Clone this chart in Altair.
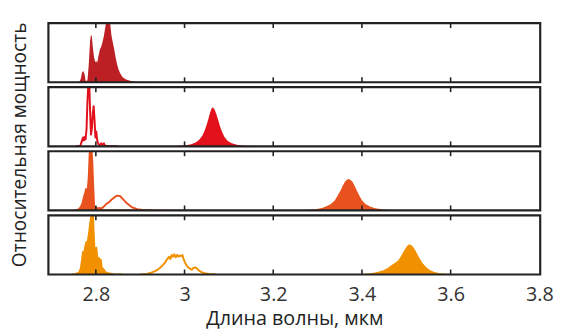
import altair as alt
import pandas as pd

# ---------------- data ----------------
colors = ["#BD2024", "#E3111B", "#E8521F", "#F29100"]
tick_values = [2.8, 3.0, 3.2, 3.4, 3.6]
axis_values = [2.8, 3.0, 3.2, 3.4, 3.6, 3.8]

# panel 1 (filled)
p1_area_x = [2.740, 2.755, 2.763, 2.766, 2.769, 2.772, 2.775, 2.777, 2.781, 2.784, 2.787, 2.789, 2.791,
             2.793, 2.796, 2.799, 2.801, 2.803, 2.806, 2.809, 2.812, 2.815, 2.818, 2.821, 2.824, 2.828,
             2.832, 2.835, 2.838, 2.841, 2.845, 2.848, 2.851, 2.855, 2.860, 2.867, 2.875, 2.885, 2.895,
             2.950, 3.100, 3.300]
p1_area_y = [0.0, 0.005, 0.01, 0.06, 0.17, 0.19, 0.12, 0.02, 0.03, 0.30, 0.70, 0.80, 0.78,
             0.60, 0.42, 0.34, 0.36, 0.33, 0.45, 0.55, 0.60, 0.68, 0.78, 0.92, 1.05, 1.08,
             1.02, 0.80, 0.68, 0.57, 0.40, 0.30, 0.22, 0.15, 0.09, 0.05, 0.03, 0.015, 0.008,
             0.005, 0.004, 0.003]

# panel 2
p2_line_x = [2.755, 2.765, 2.768, 2.771, 2.773, 2.775, 2.777, 2.779, 2.781, 2.783, 2.785, 2.787, 2.789,
             2.791, 2.793, 2.795, 2.797, 2.799, 2.801, 2.803, 2.806, 2.809, 2.812, 2.815, 2.818, 2.821,
             2.830, 2.850]
p2_line_y = [0.0, 0.01, 0.08, 0.15, 0.10, 0.16, 0.12, 0.30, 0.75, 1.05, 1.10, 0.60, 0.20,
             0.30, 0.55, 0.68, 0.45, 0.15, 0.25, 0.10, 0.03, 0.02, 0.05, 0.02, 0.05, 0.01,
             0.005, 0.0]
p2_area_x = [2.950, 2.980, 3.000, 3.015, 3.025, 3.033, 3.040, 3.045, 3.050, 3.054, 3.058, 3.061, 3.064,
             3.068, 3.072, 3.076, 3.080, 3.085, 3.090, 3.097, 3.105, 3.118, 3.135, 3.160, 3.200]
p2_area_y = [0.0, 0.006, 0.015, 0.035, 0.065, 0.11, 0.18, 0.26, 0.37, 0.47, 0.58, 0.64, 0.66,
             0.62, 0.54, 0.44, 0.34, 0.24, 0.16, 0.095, 0.055, 0.028, 0.012, 0.004, 0.0]

# panel 3
p3_spike_x = [2.750, 2.758, 2.762, 2.766, 2.770, 2.773, 2.776, 2.778, 2.780, 2.782, 2.784, 2.786, 2.788,
              2.790, 2.792, 2.794, 2.796, 2.798]
p3_spike_y = [0.0, 0.005, 0.02, 0.06, 0.12, 0.22, 0.30, 0.36, 0.33, 0.38, 0.55, 0.95, 1.10,
              1.05, 0.80, 0.40, 0.08, 0.02]
p3_hump_x = [2.798, 2.801, 2.804, 2.808, 2.812, 2.816, 2.820, 2.825, 2.830, 2.835, 2.840, 2.845, 2.850,
             2.855, 2.860, 2.865, 2.870, 2.875, 2.880, 2.886, 2.893, 2.905, 2.930]
p3_hump_y = [0.02, 0.05, 0.03, 0.04, 0.03, 0.05, 0.08, 0.12, 0.14, 0.18, 0.21, 0.24, 0.25,
             0.24, 0.20, 0.16, 0.12, 0.09, 0.06, 0.04, 0.02, 0.008, 0.0]
p3_area_x = [3.230, 3.270, 3.295, 3.310, 3.320, 3.330, 3.339, 3.346, 3.352, 3.357, 3.362, 3.366, 3.370,
             3.374, 3.379, 3.384, 3.389, 3.394, 3.400, 3.408, 3.418, 3.430, 3.445, 3.465, 3.500, 3.600]
p3_area_y = [0.0, 0.008, 0.02, 0.04, 0.07, 0.11, 0.17, 0.26, 0.34, 0.42, 0.49, 0.52, 0.53,
             0.52, 0.48, 0.41, 0.33, 0.25, 0.17, 0.11, 0.065, 0.035, 0.018, 0.008, 0.002, 0.0]

# panel 4
p4_spike_x = [2.745, 2.755, 2.762, 2.766, 2.769, 2.771, 2.773, 2.775, 2.777, 2.779, 2.781, 2.783, 2.785,
              2.787, 2.789, 2.791, 2.793, 2.795, 2.797, 2.799, 2.801, 2.803, 2.805, 2.807, 2.809, 2.811,
              2.813, 2.815, 2.818, 2.821, 2.825, 2.830, 2.840, 2.860]
p4_spike_y = [0.0, 0.01, 0.03, 0.10, 0.25, 0.38, 0.30, 0.42, 0.50, 0.55, 0.48, 0.62, 0.72,
              0.85, 0.95, 1.10, 1.10, 0.70, 0.40, 0.33, 0.45, 0.30, 0.22, 0.28, 0.18, 0.25,
              0.12, 0.10, 0.08, 0.04, 0.03, 0.015, 0.005, 0.0]
p4_hump_x = [2.900, 2.915, 2.925, 2.935, 2.943, 2.950, 2.956, 2.961, 2.965, 2.968, 2.971, 2.974, 2.977,
             2.980, 2.983, 2.986, 2.989, 2.992, 2.995, 2.998, 3.001, 3.004, 3.008, 3.012, 3.016, 3.020,
             3.024, 3.028, 3.032, 3.038, 3.045, 3.055, 3.070]
p4_hump_y = [0.0, 0.01, 0.03, 0.06, 0.10, 0.15, 0.20, 0.26, 0.30, 0.26, 0.33, 0.30, 0.34,
             0.29, 0.33, 0.30, 0.32, 0.31, 0.33, 0.26, 0.20, 0.16, 0.12, 0.10, 0.08, 0.11,
             0.12, 0.10, 0.07, 0.04, 0.02, 0.008, 0.0]
p4_area_x = [3.370, 3.400, 3.420, 3.435, 3.448, 3.458, 3.467, 3.475, 3.482, 3.488, 3.494, 3.499, 3.503,
             3.507, 3.511, 3.516, 3.521, 3.526, 3.531, 3.537, 3.544, 3.552, 3.562, 3.575, 3.590, 3.610,
             3.650]
p4_area_y = [0.0, 0.008, 0.02, 0.04, 0.07, 0.11, 0.16, 0.20, 0.24, 0.31, 0.39, 0.45, 0.49,
             0.51, 0.50, 0.46, 0.40, 0.33, 0.26, 0.19, 0.13, 0.08, 0.045, 0.022, 0.01, 0.004,
             0.0]

x_title = "Длина волны, мкм"
y_title = "Относительная мощность"

# ---------------- layout ----------------
W, H = 499, 60
FONT = "Open Sans"
xscale = alt.Scale(domain=[2.693, 3.802], nice=False, zero=False)
yscale = alt.Scale(domain=[0, 1], nice=False)


def frame(xs, ys, kind, seg):
    return pd.DataFrame({"x": xs, "y": ys, "kind": kind, "seg": seg})


panels_data = [
    [frame(p1_area_x, p1_area_y, "area", "a")],
    [frame(p2_line_x, p2_line_y, "line", "l"), frame(p2_area_x, p2_area_y, "area", "a")],
    [frame(p3_spike_x, p3_spike_y, "area", "s"), frame(p3_spike_x, p3_spike_y, "line", "s"),
     frame(p3_hump_x, p3_hump_y, "line", "h"), frame(p3_area_x, p3_area_y, "area", "a")],
    [frame(p4_spike_x, p4_spike_y, "area", "s"), frame(p4_spike_x, p4_spike_y, "line", "s"),
     frame(p4_hump_x, p4_hump_y, "line", "h"), frame(p4_area_x, p4_area_y, "area", "a")],
]

ticks_df = pd.DataFrame({"t": tick_values})
box_df = pd.DataFrame({"b": [0]})

panels = []
for i, (parts, col) in enumerate(zip(panels_data, colors)):
    df = pd.concat(parts, ignore_index=True)
    last = i == 3
    if last:
        xaxis = alt.Axis(values=axis_values, format="~g", labelFontSize=20, labelFont=FONT,
                         labelColor="#333333", ticks=False, domain=False, grid=False,
                         labelPadding=10, labelFlush=False, title=x_title, titleFont=FONT,
                         titleFontSize=20, titleFontWeight="normal", titleColor="#222222",
                         titlePadding=5)
    else:
        xaxis = None
    base = alt.Chart(df).encode(
        x=alt.X("x:Q", scale=xscale, axis=xaxis),
        y=alt.Y("y:Q", scale=yscale, axis=None),
        detail="seg:N",
    )
    area = base.transform_filter(alt.datum.kind == "area").mark_area(
        color=col, clip=True, interpolate="linear")
    line = base.transform_filter(alt.datum.kind == "line").mark_line(
        color=col, clip=True, strokeWidth=2.0, strokeJoin="round")
    tk = alt.Chart(ticks_df)
    top_t = tk.mark_rule(color="#222222", strokeWidth=1.6).encode(
        x=alt.X("t:Q", scale=xscale, axis=xaxis), y=alt.value(0), y2=alt.value(5))
    bot_t = tk.mark_rule(color="#222222", strokeWidth=1.6).encode(
        x=alt.X("t:Q", scale=xscale, axis=xaxis), y=alt.value(H - 5), y2=alt.value(H))
    box = alt.Chart(box_df).mark_rect(fill=None, stroke="#222222", strokeWidth=2.2).encode(
        x=alt.value(0), x2=alt.value(W), y=alt.value(0), y2=alt.value(H))
    panels.append(alt.layer(area, line, top_t, bot_t, box).properties(width=W, height=H))

stack = alt.vconcat(*panels, spacing=5, bounds="flush")

ytitle = alt.Chart(pd.DataFrame({"t": [y_title]})).mark_text(
    angle=270, fontSize=19.4, font=FONT, color="#222222", align="center", baseline="middle"
).encode(text="t:N", x=alt.value(12), y=alt.value(123.5)).properties(width=25, height=4 * H + 15)

chart = alt.hconcat(ytitle, stack, spacing=14).properties(
    padding={"left": 0, "top": 11, "right": 0, "bottom": 0}
).configure_view(stroke=None)

chart.save("out.html", embed_options={"renderer": "svg", "actions": False})
